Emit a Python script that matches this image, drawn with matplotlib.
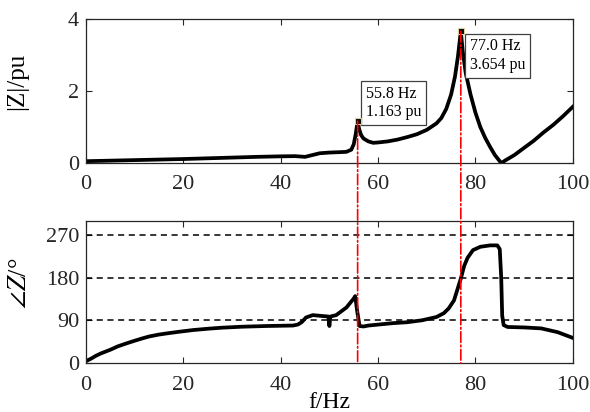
import matplotlib
matplotlib.use("Agg")
import matplotlib.pyplot as plt
from matplotlib.patches import ConnectionPatch

plt.rcParams['font.family'] = ['Liberation Serif', 'DejaVu Serif']
plt.rcParams['mathtext.fontset'] = 'stix'
plt.rcParams['font.size'] = 16

# magnitude |Z| (pu) vs frequency
f_mag = [0, 5, 10, 15, 20, 25, 30, 35, 40, 43, 45, 46.5, 48, 50, 52, 53.5,
         54.5, 55.0, 55.4, 55.8, 56.1, 56.5, 57, 58, 59, 60, 62, 64, 66, 68, 70, 72,
         73, 74, 75, 75.8, 76.4, 77.0, 77.4, 78, 79, 80, 81, 82, 83, 84, 85, 85.4,
         86, 88, 90, 92, 94, 96, 98, 100]
mag = [0.05, 0.065, 0.08, 0.095, 0.11, 0.13, 0.15, 0.17, 0.185, 0.19, 0.17, 0.22,
       0.27, 0.29, 0.30, 0.31, 0.37, 0.52, 0.8, 1.163, 0.95, 0.78, 0.68, 0.6, 0.56,
       0.57, 0.6, 0.65, 0.72, 0.8, 0.92, 1.1, 1.25, 1.5, 1.9, 2.4, 2.95, 3.654, 3.1,
       2.5, 1.9, 1.4, 1.0, 0.7, 0.45, 0.22, 0.05, 0.0, 0.06, 0.22, 0.42, 0.62, 0.85,
       1.06, 1.3, 1.56]

# phase angle (deg) vs frequency
f_ph = [0, 1, 2, 3, 4, 5, 6.5, 8.2, 10, 11.6, 13, 15, 17, 19.2, 22, 25.3, 28, 32, 37,
        42.5, 43.5, 44.3, 45.2, 46.6, 48.6, 49.8, 50.0, 50.2, 51.4, 53.5, 55.0, 55.3,
        55.7, 56.2, 57, 58, 60, 63, 66, 69, 72, 73.5, 74.5, 75.6, 76.3, 77, 77.7, 78.4,
        79.5, 81, 83, 84.5, 85.0, 85.3, 85.5, 85.8, 86.6, 90, 93.5, 96.9, 100]
phase = [4, 9, 15, 20, 24, 28, 35, 41, 47, 52, 56, 60, 63, 66, 69.5, 72.5, 74.5, 76.5,
         78, 79, 81, 86, 96, 101, 99, 98, 78, 98, 101, 117, 136, 141, 110, 78, 77, 79,
         81, 84, 86, 90, 97, 105, 115, 132, 155, 178, 205, 222, 238, 245, 248, 248, 240,
         180, 100, 80, 76, 75, 73, 65, 53]

peak_f = [55.8, 77.0]
peak_z = [1.163, 3.654]
ref_lines = [90, 180, 270]

fig = plt.figure(figsize=(5.9, 4.12), dpi=100)
ax1 = fig.add_axes([0.1458, 0.6044, 0.825, 0.3495])
ax2 = fig.add_axes([0.1458, 0.1189, 0.825, 0.3454])

ax1.plot(f_mag, mag, color='k', lw=2.7)
ax1.plot(peak_f, peak_z, 's', ms=4, mfc='k', mec='#d8d0a0', mew=0.8, zorder=5)
ax1.set_xlim(0, 100)
ax1.set_ylim(0, 4)
ax1.set_yticks([0, 2, 4])
ax1.set_xticks(range(0, 101, 20))
ax1.set_ylabel('|Z|/pu', fontsize=18)
ax1.yaxis.set_label_coords(-0.118, 0.57)

ax2.plot(f_ph, phase, color='k', lw=2.7)
for v in ref_lines:
    ax2.axhline(v, color='k', ls=(0, (4, 3)), lw=1.1)
ax2.set_xlim(0, 100)
ax2.set_ylim(0, 300)
ax2.set_yticks([0, 90, 180, 270])
ax2.set_xticks(range(0, 101, 20))
ax2.set_ylabel(r'$\angle Z$/°', fontsize=19)
ax2.yaxis.set_label_coords(-0.113, 0.56)
ax2.set_xlabel('f/Hz', fontsize=17)
ax2.xaxis.set_label_coords(0.5, -0.205)

for ax in (ax1, ax2):
    ax.tick_params(direction='in', top=True, right=True, length=4, width=0.8,
                   colors='#262626', labelcolor='#262626')
    ax.tick_params(axis='x', pad=9)
    ax.tick_params(axis='y', pad=5)
    for s in ax.spines.values():
        s.set_linewidth(0.9)
        s.set_color('#262626')

# data tips
for fx, zy, off, va in [(55.8, 1.163, (8, 1), 'bottom'), (77.0, 3.654, (9, -7), 'top')]:
    ax1.annotate(f'{fx:.1f} Hz\n{zy:.3f} pu', xy=(fx, zy), xytext=off,
                 textcoords='offset pixels', ha='left', va=va, fontsize=11.5,
                 linespacing=1.2,
                 bbox=dict(boxstyle='square,pad=0.3', fc='white', ec='#404040', lw=0.9))
    con = ConnectionPatch(xyA=(fx, zy), coordsA=ax1.transData,
                          xyB=(fx, 0), coordsB=ax2.transData,
                          color='red', ls='-.', lw=1.2, zorder=4)
    fig.add_artist(con)

fig.savefig('out.png', dpi=100)
